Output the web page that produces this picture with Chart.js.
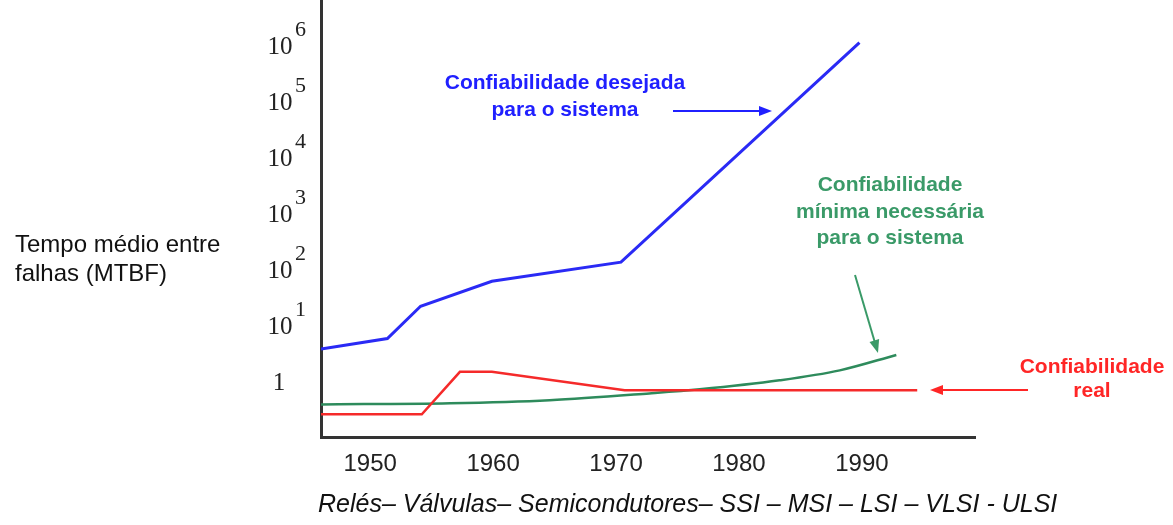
<!DOCTYPE html>
<html>
<head>
<meta charset="utf-8">
<script src="https://cdn.jsdelivr.net/npm/chart.js@4"></script>
<style>
  body { margin: 0; background: #fff; }
  #wrap { width: 1173px; height: 525px; position: relative; }
</style>
</head>
<body>
<div id="wrap"><canvas id="mtbfChart"></canvas></div>
<script>
// years on the x axis
const xTicks = [1950, 1960, 1970, 1980, 1990];
// y ticks as powers of ten
const yTickExps = [0, 1, 2, 3, 4, 5, 6];

// Confiabilidade desejada para o sistema (blue)
const desiredYears = [1946, 1951.4, 1954.1, 1959.9, 1970.4, 1989.8];
const desiredMtbf = [4.1, 6.3, 23.7, 66, 145, 1.2e6];

// Confiabilidade real (red)
const realYears = [1946, 1954.2, 1957.3, 1959.9, 1970.7, 1994.5];
const realMtbf = [0.28, 0.28, 1.6, 1.6, 0.75, 0.75];

// Confiabilidade minima necessaria (green)
const minYears = [1946, 1956.5, 1964.6, 1972.7, 1976.8, 1983.3, 1988.2, 1992.8];
const minMtbf = [0.42, 0.44, 0.5, 0.66, 0.78, 1.13, 1.7, 3.2];

function toPoints(xs, ys) {
    return xs.map((x, i) => ({ x: x, y: ys[i] }));
}

function arrow(ctx, x1, y1, x2, y2, color) {
    const ang = Math.atan2(y2 - y1, x2 - x1);
    ctx.strokeStyle = color;
    ctx.fillStyle = color;
    ctx.lineWidth = 2;
    ctx.beginPath();
    ctx.moveTo(x1, y1);
    ctx.lineTo(x2 - 6 * Math.cos(ang), y2 - 6 * Math.sin(ang));
    ctx.stroke();
    ctx.beginPath();
    ctx.moveTo(x2, y2);
    ctx.lineTo(x2 - 13 * Math.cos(ang) + 5 * Math.sin(ang), y2 - 13 * Math.sin(ang) - 5 * Math.cos(ang));
    ctx.lineTo(x2 - 13 * Math.cos(ang) - 5 * Math.sin(ang), y2 - 13 * Math.sin(ang) + 5 * Math.cos(ang));
    ctx.closePath();
    ctx.fill();
}

const textPlugin = {
    id: 'textPlugin',
    afterDraw(chart) {
        const ctx = chart.ctx;
        const yScale = chart.scales.y;
        ctx.save();

        // y tick labels 1, 10^1 ... 10^6
        ctx.fillStyle = '#222';
        ctx.textBaseline = 'middle';
        yTickExps.forEach(e => {
            const py = yScale.getPixelForValue(Math.pow(10, e));
            ctx.font = '25px "Liberation Serif"';
            ctx.textAlign = 'center';
            if (e === 0) {
                ctx.fillText('1', 279, py);
            } else {
                ctx.fillText('10', 280, py);
                ctx.font = '22px "Liberation Serif"';
                ctx.textAlign = 'left';
                ctx.fillText(String(e), 295, py - 17);
            }
        });

        // y axis title
        ctx.font = '24px "Liberation Sans"';
        ctx.textAlign = 'left';
        ctx.fillStyle = '#111';
        ctx.fillText('Tempo médio entre', 15, 245);
        ctx.fillText('falhas (MTBF)', 15, 274);

        // bottom caption
        ctx.font = 'italic 25px "Liberation Sans"';
        ctx.fillText('Relés– Válvulas– Semicondutores– SSI – MSI – LSI – VLSI - ULSI', 318, 505);

        // annotations
        ctx.font = 'bold 21px "Liberation Sans"';
        ctx.textAlign = 'center';
        ctx.fillStyle = '#2020ff';
        ctx.fillText('Confiabilidade desejada', 565, 83);
        ctx.fillText('para o sistema', 565, 110);
        arrow(ctx, 673, 111, 772, 111, '#2020ff');

        ctx.fillStyle = '#3a9a68';
        ctx.fillText('Confiabilidade', 890, 185);
        ctx.fillText('mínima necessária', 890, 212);
        ctx.fillText('para o sistema', 890, 238);
        arrow(ctx, 855, 275, 878, 353, '#3a9a68');

        ctx.fillStyle = '#ff2626';
        ctx.fillText('Confiabilidade', 1092, 367);
        ctx.fillText('real', 1092, 391);
        arrow(ctx, 1028, 390, 930, 390, '#ff2626');

        ctx.restore();
    }
};

new Chart(document.getElementById('mtbfChart'), {
    type: 'line',
    data: {
        datasets: [
            {
                label: 'Confiabilidade desejada para o sistema',
                data: toPoints(desiredYears, desiredMtbf),
                borderColor: '#2a2af5',
                borderWidth: 3,
                pointRadius: 0,
                tension: 0
            },
            {
                label: 'Confiabilidade real',
                data: toPoints(realYears, realMtbf),
                borderColor: '#f52a2a',
                borderWidth: 2.5,
                pointRadius: 0,
                tension: 0
            },
            {
                label: 'Confiabilidade mínima necessária para o sistema',
                data: toPoints(minYears, minMtbf),
                borderColor: '#2e8b5c',
                borderWidth: 2.5,
                pointRadius: 0,
                cubicInterpolationMode: 'monotone'
            }
        ]
    },
    options: {
        responsive: true,
        maintainAspectRatio: false,
        animation: false,
        layout: {
            padding: { left: 321, right: 198, top: 0, bottom: 0 }
        },
        plugins: {
            legend: { display: false },
            tooltip: { enabled: false }
        },
        scales: {
            x: {
                type: 'linear',
                min: 1946,
                max: 1999.2,
                grid: { display: false, drawTicks: false },
                border: { display: true, color: '#333', width: 3 },
                afterBuildTicks: scale => { scale.ticks = xTicks.map(v => ({ value: v })); },
                afterFit: scale => { scale.height = 88; },
                ticks: {
                    padding: 13,
                    color: '#222',
                    font: { family: 'Liberation Sans', size: 24 },
                    callback: v => String(v)
                }
            },
            y: {
                type: 'logarithmic',
                min: 0.11,
                max: 6.9e6,
                grid: { display: false, drawTicks: false },
                border: { display: true, color: '#333', width: 3 },
                ticks: { display: false }
            }
        }
    },
    plugins: [textPlugin]
});
</script>
</body>
</html>
